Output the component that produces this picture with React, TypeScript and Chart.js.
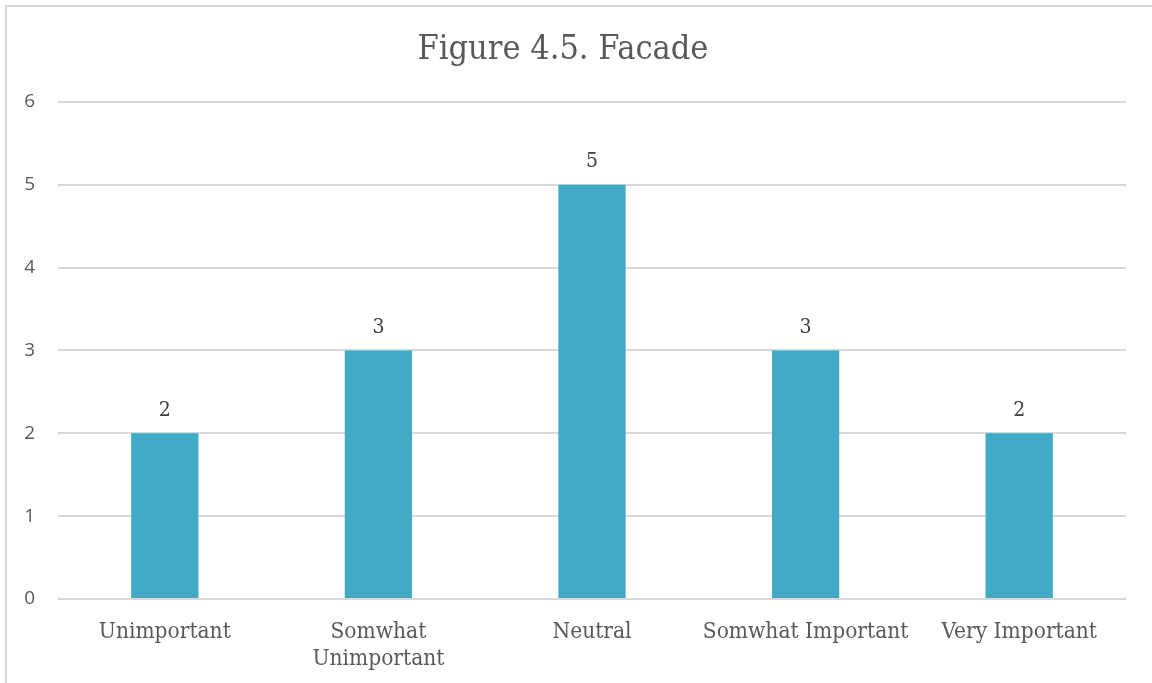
import React, { useEffect, useRef } from "react";
import { Chart, registerables } from "chart.js";

Chart.register(...registerables);

const categories: (string | string[])[] = [
  "Unimportant",
  ["Somwhat", "Unimportant"],
  "Neutral",
  "Somwhat Important",
  "Very Important",
];
const counts: number[] = [2, 3, 5, 3, 2];
const yTicks: number[] = [0, 1, 2, 3, 4, 5, 6];

const SERIF = "'DejaVu Serif Condensed', 'DejaVu Serif', serif";
const SANS = "'Open Sans', 'Liberation Sans', sans-serif";

// Draws each bar's count just above it
const valueLabels = {
  id: "valueLabels",
  afterDatasetsDraw(chart: any) {
    const ctx = chart.ctx;
    const meta = chart.getDatasetMeta(0);
    ctx.save();
    ctx.font = `21px ${SERIF}`;
    ctx.fillStyle = "#404040";
    ctx.textAlign = "center";
    ctx.textBaseline = "middle";
    meta.data.forEach((bar: any, i: number) => {
      ctx.fillText(String(counts[i]), bar.x, bar.y - 23);
    });
    ctx.restore();
  },
};

export default function App() {
  const ref = useRef<HTMLCanvasElement>(null);

  useEffect(() => {
    document.body.style.margin = "0";
    const chart = new Chart(ref.current!, {
      type: "bar",
      data: {
        labels: categories,
        datasets: [
          {
            data: counts,
            backgroundColor: "#41ABC7",
            categoryPercentage: 1,
            barPercentage: 0.315,
          },
        ],
      },
      options: {
        animation: false,
        responsive: false,
        layout: { padding: { left: 0, right: 26, top: 0, bottom: 0 } },
        plugins: {
          legend: { display: false },
          tooltip: { enabled: false },
          title: {
            display: true,
            text: "Figure 4.5. Facade",
            color: "#595959",
            font: { family: SERIF, size: 34, weight: "normal" },
            padding: { top: 30, bottom: 31 },
          },
        },
        scales: {
          x: {
            grid: { display: false, drawTicks: false },
            border: { display: false },
            ticks: {
              color: "#595959",
              font: { family: SERIF, size: 22.5, lineHeight: 1.22 },
              padding: 19,
              maxRotation: 0,
              autoSkip: false,
            },
            afterFit(scale: any) {
              scale.height = 84;
            },
          },
          y: {
            min: 0,
            max: 6,
            afterBuildTicks(scale: any) {
              scale.ticks = yTicks.map((v) => ({ value: v }));
            },
            grid: { color: "#D9D9D9", lineWidth: 2, drawTicks: false },
            border: { display: false },
            ticks: {
              color: "#595959",
              font: { family: SANS, size: 19 },
              padding: 23,
            },
            afterFit(scale: any) {
              scale.width = 58;
            },
          },
        },
      },
      plugins: [valueLabels],
    });
    return () => chart.destroy();
  }, []);

  return (
    <div style={{ position: "relative", width: 1152, height: 683, overflow: "hidden" }}>
      <div
        style={{
          position: "absolute",
          left: 5,
          top: 5,
          width: 1200,
          height: 720,
          border: "2px solid #D9D9D9",
          boxSizing: "border-box",
        }}
      />
      <canvas
        ref={ref}
        width={1152}
        height={683}
        style={{ position: "absolute", left: 0, top: 0 }}
      />
    </div>
  );
}
